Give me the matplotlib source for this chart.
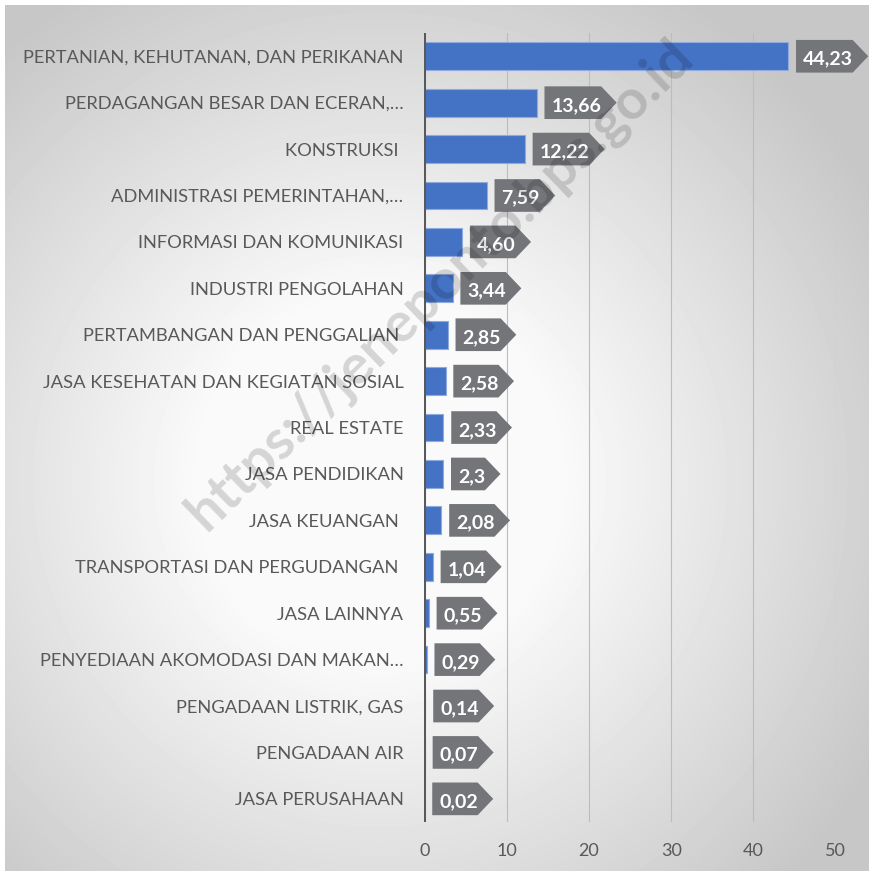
import numpy as np
import matplotlib
matplotlib.use("Agg")
import matplotlib.pyplot as plt
from matplotlib.path import Path

plt.rcParams["font.family"] = ["Lato", "DejaVu Sans"]

categories = [
    "PERTANIAN, KEHUTANAN, DAN PERIKANAN",
    "PERDAGANGAN BESAR DAN ECERAN,…",
    "KONSTRUKSI ",
    "ADMINISTRASI PEMERINTAHAN,…",
    "INFORMASI DAN KOMUNIKASI",
    "INDUSTRI PENGOLAHAN",
    "PERTAMBANGAN DAN PENGGALIAN ",
    "JASA KESEHATAN DAN KEGIATAN SOSIAL",
    "REAL ESTATE",
    "JASA PENDIDIKAN",
    "JASA KEUANGAN ",
    "TRANSPORTASI DAN PERGUDANGAN ",
    "JASA LAINNYA",
    "PENYEDIAAN AKOMODASI DAN MAKAN…",
    "PENGADAAN LISTRIK, GAS",
    "PENGADAAN AIR",
    "JASA PERUSAHAAN",
]
values = [44.23, 13.66, 12.22, 7.59, 4.60, 3.44, 2.85, 2.58, 2.33, 2.3,
          2.08, 1.04, 0.55, 0.29, 0.14, 0.07, 0.02]
value_labels = ["44,23", "13,66", "12,22", "7,59", "4,60", "3,44", "2,85",
                "2,58", "2,33", "2,3", "2,08", "1,04", "0,55", "0,29",
                "0,14", "0,07", "0,02"]
x_ticks = [0, 10, 20, 30, 40, 50]
watermark = "https://jeneponto.bps.go.id"

W, H = 870, 873
fig = plt.figure(figsize=(W / 100, H / 100), dpi=100)
fig.patch.set_facecolor("white")

# radial gray gradient behind the chart area
bx0, by0, bx1, by1 = 5, 5, 870, 871
bg = fig.add_axes([bx0 / W, 1 - by1 / H, (bx1 - bx0) / W, (by1 - by0) / H])
xx, yy = np.meshgrid(np.arange(bx0, bx1) + 0.5, np.arange(by0, by1) + 0.5)
dist = np.hypot(xx - 380, yy - 480)
shade = np.clip(250 - (dist - 180) / 380 * 50, 199, 250) / 255
bg.imshow(shade, cmap="gray", vmin=0, vmax=1, aspect="auto",
          interpolation="bilinear")
bg.set_axis_off()

left, right, top, bottom = 424.3, 835.7, 33, 822
ax = fig.add_axes([left / W, 1 - bottom / H, (right - left) / W, (bottom - top) / H])
ax.set_facecolor("none")

y = np.arange(len(categories))
ax.barh(y, values, height=0.6, color="#4472C4", edgecolor="#8faadc",
        linewidth=0.8, zorder=3)
ax.set_xlim(0, 50)
ax.set_ylim(len(categories) - 0.5, -0.5)
ax.set_xticks(x_ticks)
ax.set_yticks(y)
ax.set_yticklabels(categories)
ax.xaxis.grid(True, color="#bcbcbc", linewidth=0.8)
ax.set_axisbelow(True)
for s in ax.spines.values():
    s.set_visible(False)
ax.axvline(0, color="#595959", linewidth=2.2, zorder=4)
ax.tick_params(axis="y", length=0, pad=15, labelsize=13.2, labelcolor="#595959")
ax.tick_params(axis="x", length=0, pad=15, labelsize=13, labelcolor="#595959")


def pentagon(x0, y0, width, height, mutation_size):
    """Callout box with a pointed right end."""
    ms = mutation_size
    cy = y0 + height / 2 + 0.14 * ms
    hh = 0.84 * ms
    lft = x0 - 0.35 * ms
    rgt = x0 + width + 0.0 * ms
    tip = rgt + 0.8 * ms
    verts = [(lft, cy - hh), (rgt, cy - hh), (tip, cy), (rgt, cy + hh),
             (lft, cy + hh), (lft, cy - hh)]
    codes = [Path.MOVETO] + [Path.LINETO] * 4 + [Path.CLOSEPOLY]
    return Path(verts, codes)


for yi, v, lab in zip(y, values, value_labels):
    ax.annotate(lab, xy=(v, yi), xytext=(10.5, -2), textcoords="offset points",
                ha="left", va="center", fontsize=14, fontweight="bold",
                color="white", annotation_clip=False, zorder=5,
                bbox=dict(boxstyle=pentagon, fc="#747579", ec="none"))

fig.text(440 / W, 1 - 284 / H, watermark, rotation=44, ha="center",
         va="center", fontsize=40, fontweight="bold", color="black",
         alpha=0.15, zorder=10, rotation_mode="anchor")

fig.savefig("out.png", dpi=100)
